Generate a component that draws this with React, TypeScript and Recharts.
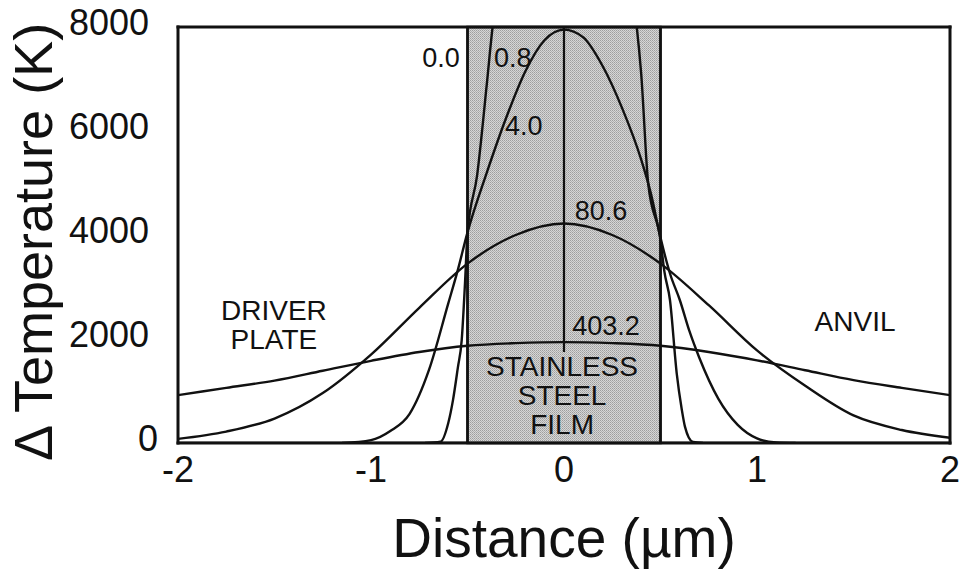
import React from 'react';
import {
  LineChart, Line, XAxis, YAxis, ReferenceArea, ReferenceLine, ReferenceDot,
} from 'recharts';

// temperature profiles across the target, one per elapsed time label
const profile00 = [
  { x: -2, t: 0 }, { x: -0.5, t: 0 }, { x: -0.5, t: 12000 },
  { x: 0.5, t: 12000 }, { x: 0.5, t: 0 }, { x: 2, t: 0 },
];

const profile08 = [
  { x: -0.72, t: 0 }, { x: -0.64, t: 25 }, { x: -0.6, t: 380 }, { x: -0.575, t: 830 },
  { x: -0.55, t: 1450 }, { x: -0.53, t: 1980 }, { x: -0.513, t: 3070 }, { x: -0.5, t: 4040 },
  { x: -0.45, t: 5150 }, { x: -0.4, t: 6900 }, { x: -0.37, t: 8000 }, { x: -0.3, t: 9300 },
  { x: 0, t: 9900 }, { x: 0.3, t: 9300 }, { x: 0.377, t: 8000 }, { x: 0.4, t: 7100 },
  { x: 0.436, t: 5000 }, { x: 0.5, t: 3900 }, { x: 0.52, t: 3300 }, { x: 0.549, t: 2750 },
  { x: 0.584, t: 1340 }, { x: 0.61, t: 650 }, { x: 0.627, t: 310 }, { x: 0.668, t: 20 },
  { x: 0.72, t: 0 },
];

const profile40 = [
  { x: -1.15, t: 0 }, { x: -1.0, t: 55 }, { x: -0.9, t: 230 }, { x: -0.8, t: 560 },
  { x: -0.7, t: 1400 }, { x: -0.6, t: 2680 }, { x: -0.55, t: 3330 }, { x: -0.5, t: 4050 },
  { x: -0.4, t: 5200 }, { x: -0.3, t: 6250 }, { x: -0.2, t: 7150 }, { x: -0.1, t: 7750 },
  { x: 0, t: 7950 }, { x: 0.1, t: 7800 }, { x: 0.2, t: 7250 }, { x: 0.3, t: 6450 },
  { x: 0.4, t: 5450 }, { x: 0.45, t: 4800 }, { x: 0.5, t: 3950 }, { x: 0.55, t: 3250 },
  { x: 0.6, t: 2750 }, { x: 0.65, t: 2150 }, { x: 0.7, t: 1650 }, { x: 0.8, t: 850 },
  { x: 0.9, t: 350 }, { x: 1.0, t: 90 }, { x: 1.1, t: 10 }, { x: 1.2, t: 0 },
];

const profile806 = [
  { x: -2, t: 80 }, { x: -1.75, t: 220 }, { x: -1.5, t: 470 }, { x: -1.25, t: 960 },
  { x: -1, t: 1700 }, { x: -0.75, t: 2600 }, { x: -0.5, t: 3450 }, { x: -0.25, t: 4000 },
  { x: 0, t: 4220 }, { x: 0.25, t: 4000 }, { x: 0.5, t: 3450 }, { x: 0.75, t: 2650 },
  { x: 1, t: 1780 }, { x: 1.25, t: 1100 }, { x: 1.5, t: 530 }, { x: 1.75, t: 250 },
  { x: 2, t: 100 },
];

const profile4032 = [
  { x: -2, t: 920 }, { x: -1.75, t: 1060 }, { x: -1.5, t: 1200 }, { x: -1.25, t: 1390 },
  { x: -1, t: 1580 }, { x: -0.75, t: 1750 }, { x: -0.5, t: 1870 }, { x: -0.25, t: 1920 },
  { x: 0, t: 1940 }, { x: 0.25, t: 1920 }, { x: 0.5, t: 1870 }, { x: 0.75, t: 1750 },
  { x: 1, t: 1590 }, { x: 1.25, t: 1400 }, { x: 1.5, t: 1210 }, { x: 1.75, t: 1060 },
  { x: 2, t: 920 },
];

const xMajor = [-2, -1, 0, 1, 2];
const xMinor = [-2, -1.8, -1.6, -1.4, -1.2, -1, -0.8, -0.6, -0.4, -0.2, 0,
  0.2, 0.4, 0.6, 0.8, 1, 1.2, 1.4, 1.6, 1.8, 2];
const yMajor = [0, 2000, 4000, 6000, 8000];
const yMinor = [0, 500, 1000, 1500, 2000, 2500, 3000, 3500, 4000, 4500, 5000,
  5500, 6000, 6500, 7000, 7500, 8000];

// film between -0.5 and 0.5 um
const film = { x1: -0.5, x2: 0.5 };
const centerLine = { x: 0, from: 1750, to: 8000 };

const curveLabels = [
  { text: '0.0', x: -0.637, t: 7420 },
  { text: '0.8', x: -0.265, t: 7420 },
  { text: '4.0', x: -0.208, t: 6115 },
  { text: '80.6', x: 0.192, t: 4480 },
  { text: '403.2', x: 0.218, t: 2270 },
];

// stacked region names, anchored at the middle line
const regionLabels = [
  { lines: ['DRIVER', 'PLATE'], x: -1.503, t: 2280 },
  { lines: ['ANVIL'], x: 1.508, t: 2346 },
  { lines: ['STAINLESS', 'STEEL', 'FILM'], x: -0.01, t: 920 },
];

const series = [profile08, profile40, profile806, profile4032];

const FONT = '"Liberation Sans", Arial, Helvetica, sans-serif';
const INK = '#111';

const XTick = (props: any) => {
  const { x, y, payload } = props;
  return (
    <text x={x} y={y + 31} textAnchor="middle" fontSize={36} fontFamily={FONT} fill={INK}>
      {payload.value}
    </text>
  );
};

const YTick = (props: any) => {
  const { x, y, payload } = props;
  const right = payload.value === 0 ? x - 12 : x - 21;
  return (
    <text x={right} y={y - 5} textAnchor="end" dominantBaseline="central"
      fontSize={36} fontFamily={FONT} fill={INK}>
      {payload.value}
    </text>
  );
};

const YTitle = (props: any) => {
  const { viewBox } = props;
  const cx = viewBox.x + 52;
  const cy = viewBox.y + viewBox.height / 2 + 7;
  return (
    <text x={cx} y={cy} transform={`rotate(-90, ${cx}, ${cy})`} textAnchor="middle"
      fontSize={54} fontFamily={FONT} fill={INK}>
      Δ Temperature (K)
    </text>
  );
};

const stackedLabel = (lines: string[]) => (props: any) => {
  const { viewBox } = props;
  const lead = 29;
  const first = -((lines.length - 1) * lead) / 2;
  return (
    <text x={viewBox.x} y={viewBox.y} textAnchor="middle" dominantBaseline="central"
      fontSize={28} fontFamily={FONT} fill={INK}>
      {lines.map((s, i) => (
        <tspan key={s} x={viewBox.x} y={viewBox.y + first + i * lead}>{s}</tspan>
      ))}
    </text>
  );
};

const frameLine = { stroke: INK, strokeWidth: 3, strokeLinecap: 'square' as const };
const tickMark = { stroke: INK, strokeWidth: 2 };

export default function App() {
  return (
    <div style={{ position: 'absolute', left: 0, top: 0, background: '#fff' }}>
      <LineChart width={962} height={572} margin={{ top: 27, right: 12, bottom: 0, left: 0 }}>
        <defs>
          <pattern id="stipple" width="2" height="2" patternUnits="userSpaceOnUse">
            <rect width="2" height="2" fill="#d6d6d6" />
            <rect width="1" height="1" fill="#9e9e9e" />
            <rect x="1" y="1" width="1" height="1" fill="#b0b0b0" />
          </pattern>
        </defs>

        <XAxis xAxisId="x" type="number" dataKey="x" domain={[-2, 2]} ticks={xMajor}
          allowDataOverflow height={129} axisLine={frameLine} tickLine={false} tick={<XTick />}
          label={{ value: 'Distance (µm)', position: 'insideBottom', offset: 15,
            fontSize: 55, fontFamily: FONT, fill: INK }} />
        <XAxis xAxisId="xb" type="number" domain={[-2, 2]} ticks={xMinor} allowDataOverflow
          orientation="bottom" mirror height={1} axisLine={false} tick={false}
          tickLine={tickMark} tickSize={6} />
        <XAxis xAxisId="xt" type="number" domain={[-2, 2]} ticks={xMinor} allowDataOverflow
          orientation="top" mirror height={1} axisLine={frameLine} tick={false}
          tickLine={tickMark} tickSize={6} />

        <YAxis yAxisId="y" type="number" domain={[0, 8000]} ticks={yMajor} allowDataOverflow
          width={178} axisLine={frameLine} tickLine={false} tick={<YTick />}
          label={{ content: <YTitle /> }} />
        <YAxis yAxisId="yl" type="number" domain={[0, 8000]} ticks={yMinor} allowDataOverflow
          orientation="left" mirror width={1} axisLine={false} tick={false}
          tickLine={tickMark} tickSize={6} />
        <YAxis yAxisId="yr" type="number" domain={[0, 8000]} ticks={yMinor} allowDataOverflow
          orientation="right" mirror width={1} axisLine={frameLine} tick={false}
          tickLine={tickMark} tickSize={6} />

        <ReferenceArea xAxisId="x" yAxisId="y" x1={film.x1} x2={film.x2} y1={0} y2={8000}
          fill="url(#stipple)" fillOpacity={1} stroke={INK} strokeWidth={2.5} />
        <ReferenceLine xAxisId="x" yAxisId="y" stroke={INK} strokeWidth={2.2}
          segment={[{ x: centerLine.x, y: centerLine.from }, { x: centerLine.x, y: centerLine.to }]} />

        <Line xAxisId="x" yAxisId="y" data={profile00} dataKey="t" type="linear"
          stroke={INK} strokeWidth={2.4} dot={false} isAnimationActive={false} />
        {series.map((s, i) => (
          <Line key={i} xAxisId="x" yAxisId="y" data={s} dataKey="t" type="monotone"
            stroke={INK} strokeWidth={2.4} dot={false} isAnimationActive={false} />
        ))}

        {curveLabels.map((l) => (
          <ReferenceDot key={l.text} xAxisId="x" yAxisId="y" x={l.x} y={l.t} r={0}
            fill="none" stroke="none"
            label={{ value: l.text, position: 'center', fontSize: 27, fontFamily: FONT, fill: INK }} />
        ))}
        {regionLabels.map((l) => (
          <ReferenceDot key={l.lines[0]} xAxisId="x" yAxisId="y" x={l.x} y={l.t} r={0}
            fill="none" stroke="none" label={{ content: stackedLabel(l.lines) }} />
        ))}
      </LineChart>
    </div>
  );
}
